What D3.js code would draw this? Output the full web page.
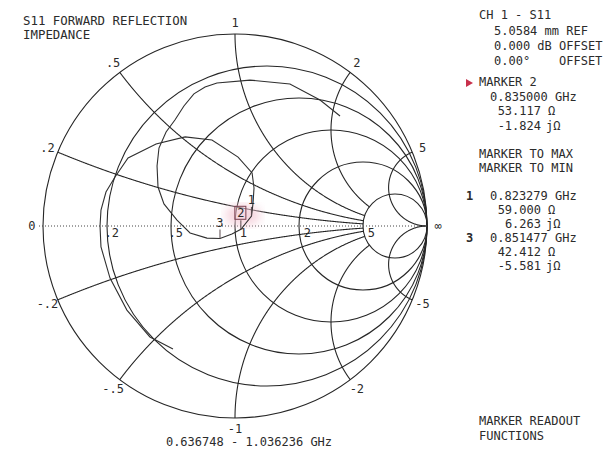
<!DOCTYPE html>
<html>
<head>
<style>
body { margin: 0; background: #fff; }
svg text { font-family: "DejaVu Sans Mono", "Liberation Mono", monospace; font-size: 12px; fill: #2b2b2b; white-space: pre; }
.grid { fill: none; stroke: #262626; stroke-width: 1.1; }
.trace { fill: none; stroke: #303030; stroke-width: 1.1; }
</style>
<script src="https://d3js.org/d3.v7.min.js"></script>
</head>
<body>
<svg width="606" height="453"></svg>
<script>
// grid values (normalised impedance)
var rCircles = [0.2, 0.5, 1, 2, 5];
var rLabels = [".2", ".5", "1", "2", "5"];
var xArcs = [0.2, 0.5, 1, 2, 5, -0.2, -0.5, -1, -2, -5];
var xLabels = [".2", ".5", "1", "2", "5", "-.2", "-.5", "-1", "-2", "-5"];

// S11 trace, reflection coefficient (re, im)
var traceRe = [-0.323, -0.443, -0.563, -0.651, -0.698, -0.703, -0.698, -0.672, -0.625, -0.557,
  -0.411, -0.260, -0.120, 0.016, 0.089, 0.099, 0.094, 0.086, 0.031, -0.016,
  -0.078, -0.146, -0.234, -0.302, -0.370, -0.401, -0.406, -0.396, -0.359, -0.313,
  -0.266, -0.214, -0.156, -0.094, 0.078, 0.286, 0.443, 0.547];
var traceIm = [-0.641, -0.578, -0.438, -0.271, -0.109, 0.000, 0.083, 0.177, 0.255, 0.354,
  0.427, 0.464, 0.448, 0.359, 0.276, 0.198, 0.120, 0.052, -0.017, -0.042,
  -0.065, -0.063, -0.036, 0.031, 0.115, 0.203, 0.313, 0.406, 0.490, 0.552,
  0.625, 0.688, 0.724, 0.745, 0.760, 0.740, 0.656, 0.573];

// markers
var markerNo = [1, 2, 3];
var markerGHz = ["0.823279", "0.835000", "0.851477"];
var markerR = ["59.000", "53.117", "42.412"];
var markerX = ["6.263", "-1.824", "-5.581"];
var activeMarker = 2;
var z0 = 50;

var svg = d3.select("svg");
var cx = 235, cy = 226, R = 192;
var xs = d3.scaleLinear().domain([-1, 1]).range([cx - R, cx + R]);
var ys = d3.scaleLinear().domain([-1, 1]).range([cy + R, cy - R]);

function gamma(r, x) {
  var d = (r + 1) * (r + 1) + x * x;
  return [(r * r - 1 + x * x) / d, 2 * x / d];
}

var g = svg.append("g");

// outer circle and resistance circles
g.append("circle").attr("class", "grid")
  .attr("cx", xs(0)).attr("cy", ys(0)).attr("r", xs(1) - xs(0));
g.selectAll(".rc").data(rCircles).enter().append("circle")
  .attr("class", "grid rc")
  .attr("cx", function(d) { return xs(d / (1 + d)); })
  .attr("cy", ys(0))
  .attr("r", function(d) { return xs(1 / (1 + d)) - xs(0); });

// reactance arcs: +-5 run to infinity, the rest stop at r = 5
var line = d3.line().x(function(d) { return xs(d[0]); }).y(function(d) { return ys(d[1]); });
xArcs.forEach(function(x) {
  var rEnd = Math.abs(x) >= 5 ? 1e5 : 5;
  var uEnd = rEnd / (1 + rEnd);
  var pts = d3.range(0, 601).map(function(i) {
    var u = uEnd * i / 600;
    return gamma(u / (1 - u), x);
  });
  g.append("path").attr("class", "grid").attr("d", line(pts));
});

// real axis, dotted
g.append("line")
  .attr("x1", xs(-1) - 4).attr("x2", xs(1))
  .attr("y1", ys(0)).attr("y2", ys(0))
  .attr("stroke", "#444").attr("stroke-width", 1).attr("stroke-dasharray", "1,2");

// labels
var k = 1.058;
xArcs.forEach(function(x, i) {
  var p = gamma(0, x);
  g.append("text")
    .attr("x", xs(p[0] * k)).attr("y", ys(p[1] * k))
    .attr("text-anchor", "middle").attr("dominant-baseline", "central")
    .text(xLabels[i]);
});
g.append("text").attr("x", xs(-k)).attr("y", ys(0))
  .attr("text-anchor", "middle").attr("dominant-baseline", "central").text("0");
g.append("text").attr("x", xs(k)).attr("y", ys(0))
  .attr("text-anchor", "middle").attr("dominant-baseline", "central").text("\u221e");
rCircles.forEach(function(r, i) {
  g.append("text")
    .attr("x", xs((r - 1) / (r + 1)) + 12).attr("y", ys(0) + 11)
    .attr("text-anchor", "end").text(rLabels[i]);
});

// active marker glow
var mPos = markerNo.map(function(n, i) {
  return gamma(+markerR[i] / z0, +markerX[i] / z0);
});
var am = mPos[activeMarker - 1];
var defs = svg.append("defs");
defs.append("filter").attr("id", "blur").append("feGaussianBlur").attr("stdDeviation", 5);
g.append("ellipse")
  .attr("cx", xs(am[0]) + 2).attr("cy", ys(am[1]) - 14)
  .attr("rx", 18).attr("ry", 11)
  .attr("fill", "#f3c6d3").attr("opacity", 0.7).attr("filter", "url(#blur)");

// trace
var trace = traceRe.map(function(d, i) { return [d, traceIm[i]]; });
g.append("path").attr("class", "trace").attr("d", line(trace));

// marker ticks and labels
mPos.forEach(function(p, i) {
  var px = xs(p[0]), py = ys(p[1]);
  g.append("line").attr("x1", px).attr("x2", px).attr("y1", py).attr("y2", py - 9)
    .attr("stroke", "#5a4a4e").attr("stroke-width", 1);
  g.append("text").attr("x", px).attr("y", py - 12)
    .attr("text-anchor", "middle").attr("fill", "#5a4a4e").text(markerNo[i]);
  if (markerNo[i] === activeMarker) {
    g.append("rect").attr("x", px - 6).attr("y", py - 23).attr("width", 11).attr("height", 13)
      .attr("fill", "none").attr("stroke", "#7a3e4e").attr("stroke-width", 1);
  }
});

// header text
function txt(x, y, s, anchor, weight) {
  svg.append("text").attr("x", x).attr("y", y)
    .attr("text-anchor", anchor || "start")
    .attr("font-weight", weight || "normal")
    .text(s);
}
svg.append("text").attr("x", 23).attr("y", 25).style("font-size", "12.4px").text("S11 FORWARD REFLECTION");
svg.append("text").attr("x", 23).attr("y", 39).style("font-size", "12.4px").text("IMPEDANCE");

txt(479, 19, "CH 1 - S11");
txt(494, 35, "5.0584 mm REF");
txt(494, 50, "0.000 dB OFFSET");
txt(494, 65, "0.00\u00b0");
txt(559, 65, "OFFSET");

svg.append("path").attr("d", "M466,79L466,87L473,83Z").attr("fill", "#c8304c");
txt(479, 86, "MARKER " + activeMarker);
var a = activeMarker - 1;
txt(490, 101, markerGHz[a] + " GHz");
txt(541, 115, markerR[a], "end"); txt(548, 115, "\u03a9");
txt(541, 130, markerX[a], "end"); txt(546, 130, "j\u03a9");

txt(479, 158, "MARKER TO MAX");
txt(479, 172, "MARKER TO MIN");

var rows = [0, 2];
rows.forEach(function(m, j) {
  var y0 = 200 + j * 42;
  txt(466, y0, String(markerNo[m]), "start", "bold");
  txt(490, y0, markerGHz[m] + " GHz");
  txt(541, y0 + 14, markerR[m], "end"); txt(548, y0 + 14, "\u03a9");
  txt(541, y0 + 28, markerX[m], "end"); txt(546, y0 + 28, "j\u03a9");
});

txt(479, 425, "MARKER READOUT");
txt(479, 440, "FUNCTIONS");
txt(249, 446, "0.636748 - 1.036236 GHz", "middle");
</script>
</body>
</html>
